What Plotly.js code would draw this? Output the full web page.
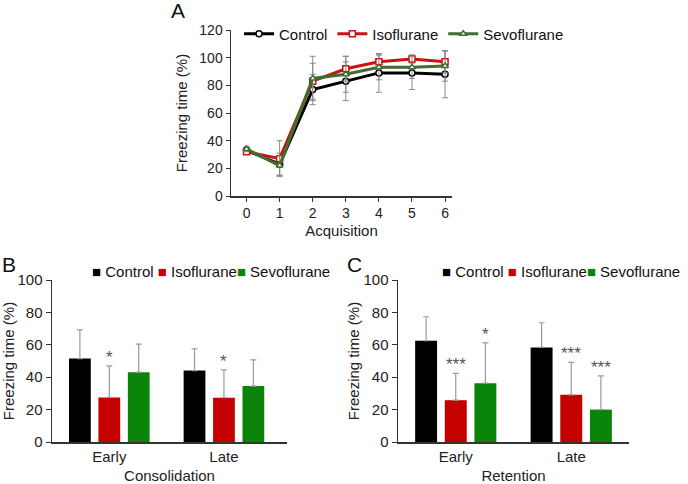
<!DOCTYPE html>
<html>
<head>
<meta charset="utf-8">
<script src="https://cdn.plot.ly/plotly-3.0.1.min.js"></script>
<style>html,body{margin:0;padding:0;background:#fff;}#chart{width:688px;height:484px;}</style>
</head>
<body>
<div id="chart"></div>
<script>
// ---------- data ----------
const seriesNames = ['Control', 'Isoflurane', 'Sevoflurane'];

// Panel A: acquisition
const acqX = [0, 1, 2, 3, 4, 5, 6];
const acqControl = [33, 23, 77, 83, 89, 89, 88];
const acqIso = [32, 27, 83, 92, 97, 99, 97];
const acqSevo = [34, 22, 85, 88, 93, 93, 94];
const acqControlErr = [2, 8, 11, 14, 14, 12, 17];
const acqIsoErr = [2, 13, 13, 9, 5, 3, 8];
const acqSevoErr = [2, 7, 16, 13, 9, 8, 11];

// Panel B: consolidation
const phaseCats = ['Early', 'Late'];
const consControl = [51.5, 44.1];
const consIso = [27.5, 27.3];
const consSevo = [43.1, 34.5];
const consControlErr = [17.7, 13.4];
const consIsoErr = [19.5, 17.2];
const consSevoErr = [17.3, 16.2];
const consSig = [['', '*', ''], ['', '*', '']];

// Panel C: retention
const retControl = [62.5, 58.4];
const retIso = [25.8, 29.1];
const retSevo = [36.3, 20.0];
const retControlErr = [14.8, 15.2];
const retIsoErr = [16.5, 20.0];
const retSevoErr = [24.9, 20.8];
const retSig = [['', '***', '*'], ['', '***', '***']];

const yTicks = [0, 20, 40, 60, 80, 100, 120];

// ---------- styles ----------
const FONT = 'Arial, "Liberation Sans", sans-serif';
const lineColors = ['#000000', '#cc1111', '#3f6e2e'];
const barColors = ['#000000', '#c40000', '#0a850a'];
const markerSymbols = ['circle', 'square', 'triangle-up'];
const BARGAP = 0.23;

const traces = [];
[[acqControl, acqControlErr], [acqIso, acqIsoErr], [acqSevo, acqSevoErr]].forEach((s, i) => {
  traces.push({
    type: 'scatter', mode: 'lines+markers', x: acqX, y: s[0], name: seriesNames[i],
    xaxis: 'x', yaxis: 'y', legend: 'legend',
    line: {color: lineColors[i], width: 3},
    marker: {symbol: markerSymbols[i], size: 6, color: '#ffffff', line: {color: lineColors[i], width: 1.5}},
    error_y: {type: 'data', array: s[1], visible: true, color: '#8a8a8a', thickness: 1, width: 3}
  });
});

function barTraces(vals, errs, xa, ya) {
  vals.forEach((v, i) => {
    traces.push({
      type: 'bar', x: phaseCats, y: v, name: seriesNames[i], showlegend: false,
      xaxis: xa, yaxis: ya,
      marker: {color: barColors[i], line: {width: 0}},
      error_y: {type: 'data', symmetric: false, array: errs[i], arrayminus: errs[i].map(() => 0),
                visible: true, color: '#9a9a9a', thickness: 1.2, width: 3}
    });
  });
}
barTraces([consControl, consIso, consSevo], [consControlErr, consIsoErr, consSevoErr], 'x2', 'y2');
barTraces([retControl, retIso, retSevo], [retControlErr, retIsoErr, retSevoErr], 'x3', 'y3');

const annotations = [];
const slot = (1 - BARGAP) / 3;
function sigAnnots(sig, vals, errs, xref, yref) {
  sig.forEach((row, c) => {
    row.forEach((txt, s) => {
      if (!txt) return;
      annotations.push({
        xref: xref, yref: yref, x: c + (s - 1) * slot, y: vals[s][c] + errs[s][c],
        text: txt, showarrow: false, xanchor: 'center', yanchor: 'bottom', yshift: -3,
        font: {family: FONT, size: 17, color: '#555555'}
      });
    });
  });
}
sigAnnots(consSig, [consControl, consIso, consSevo], [consControlErr, consIsoErr, consSevoErr], 'x2', 'y2');
sigAnnots(retSig, [retControl, retIso, retSevo], [retControlErr, retIsoErr, retSevoErr], 'x3', 'y3');

// legends for bar panels (text with coloured square glyphs)
function legendText() {
  return seriesNames.map((n, i) => '<span style="color:' + barColors[i] + '">■</span> ' + n)
    .reduce((acc, item, i) => acc + (i === 1 ? ' ' : '') + item, '');
}
annotations.push({xref: 'paper', yref: 'paper', x: 90 / 688, y: 1 - 271 / 484, xanchor: 'left', yanchor: 'middle',
  text: legendText(), showarrow: false, font: {family: FONT, size: 15, color: '#111'}});
annotations.push({xref: 'paper', yref: 'paper', x: 440 / 688, y: 1 - 271 / 484, xanchor: 'left', yanchor: 'middle',
  text: legendText(), showarrow: false, font: {family: FONT, size: 15, color: '#111'}});

// panel letters
[['A', 169, 10], ['B', 0, 264], ['C', 345, 264]].forEach(p => {
  annotations.push({xref: 'paper', yref: 'paper', x: p[1] / 688, y: 1 - p[2] / 484, xanchor: 'left', yanchor: 'middle',
    text: p[0], showarrow: false, font: {family: FONT, size: 21, color: '#111'}});
});

const axLine = {showline: true, linecolor: '#333', linewidth: 1.5, showgrid: false, zeroline: false,
  tickfont: {family: FONT, size: 14, color: '#222'}, automargin: false};
const barTick = {family: FONT, size: 15, color: '#222'};

const layout = {
  width: 688, height: 484,
  margin: {l: 0, r: 0, t: 0, b: 0},
  paper_bgcolor: '#ffffff', plot_bgcolor: 'rgba(0,0,0,0)',
  font: {family: FONT, size: 14, color: '#222'},
  barmode: 'group', bargap: BARGAP, bargroupgap: 0.26,
  showlegend: true,
  legend: {orientation: 'h', x: 239 / 688, xanchor: 'left', y: 1 - 34 / 484, yanchor: 'middle',
    bgcolor: 'rgba(0,0,0,0)', font: {family: FONT, size: 15, color: '#111'}, itemwidth: 30},
  xaxis: Object.assign({}, axLine, {domain: [231 / 688, 452 / 688], range: [-0.47, 6.21], anchor: 'y',
    tickmode: 'array', tickvals: acqX, ticks: 'outside', ticklen: 4, tickcolor: '#333',
    title: {text: 'Acquisition', font: {family: FONT, size: 15, color: '#222'}, standoff: 5}}),
  yaxis: Object.assign({}, axLine, {domain: [1 - 196 / 484, 1 - 30 / 484], range: [0, 120], anchor: 'x',
    tickmode: 'array', tickvals: yTicks, ticks: 'outside', ticklen: 4, tickcolor: '#333',
    title: {text: 'Freezing time (%)', font: {family: FONT, size: 15, color: '#222'}, standoff: 8}}),
  xaxis2: Object.assign({}, axLine, {domain: [52 / 688, 287 / 688], range: [-0.5, 1.55], anchor: 'y2', type: 'category',
    ticks: '', tickfont: barTick,
    title: {text: 'Consolidation', font: {family: FONT, size: 15, color: '#222'}, standoff: 11}}),
  yaxis2: Object.assign({}, axLine, {domain: [42 / 484, 204 / 484], range: [0, 100], anchor: 'x2',
    tickmode: 'array', tickvals: yTicks.slice(0, 6), ticks: 'outside', ticklen: 5, tickcolor: '#333', tickfont: barTick,
    title: {text: 'Freezing time (%)', font: {family: FONT, size: 15, color: '#222'}, standoff: 4}}),
  xaxis3: Object.assign({}, axLine, {domain: [398 / 688, 629 / 688], range: [-0.5, 1.5], anchor: 'y3', type: 'category',
    ticks: '', tickfont: barTick,
    title: {text: 'Retention', font: {family: FONT, size: 15, color: '#222'}, standoff: 11}}),
  yaxis3: Object.assign({}, axLine, {domain: [42 / 484, 204 / 484], range: [0, 100], anchor: 'x3',
    tickmode: 'array', tickvals: yTicks.slice(0, 6), ticks: 'outside', ticklen: 5, tickcolor: '#333', tickfont: barTick,
    title: {text: 'Freezing time (%)', font: {family: FONT, size: 15, color: '#222'}, standoff: 0}}),
  annotations: annotations
};

Plotly.newPlot('chart', traces, layout, {staticPlot: true, displayModeBar: false});
</script>
</body>
</html>
